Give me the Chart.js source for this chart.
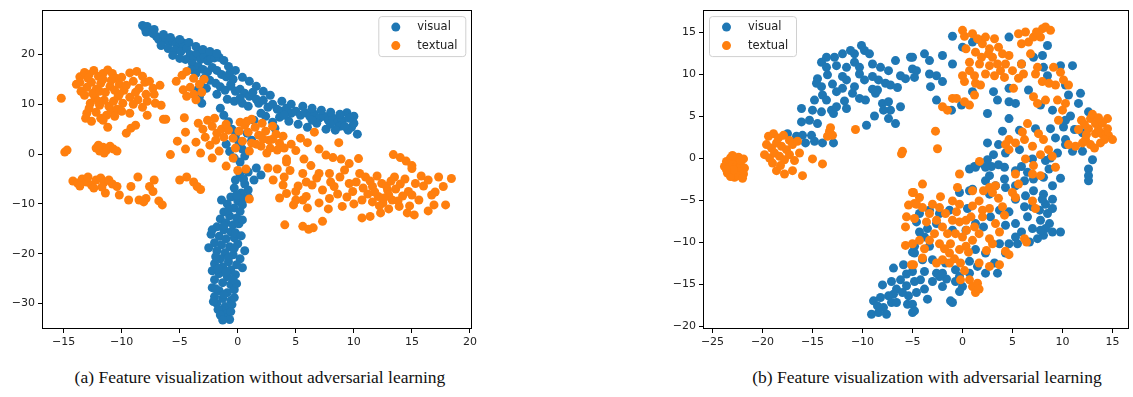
<!DOCTYPE html>
<html>
<head>
<meta charset="utf-8">
<script src="https://cdn.jsdelivr.net/npm/chart.js@4.4.1/dist/chart.umd.min.js"></script>
<style>
body { margin: 0; background: #fff; width: 1133px; height: 397px; position: relative; overflow: hidden; }
canvas { position: absolute; top: 0; }
#chartA { left: 0; }
#chartB { left: 650px; }
.caption { position: absolute; top: 367px; width: 600px; text-align: center; font-family: "Liberation Serif", "Times New Roman", serif; font-size: 17.5px; color: #111; white-space: nowrap; }
</style>
</head>
<body>
<canvas id="chartA" width="480" height="350"></canvas>
<canvas id="chartB" width="483" height="350"></canvas>
<div class="caption" style="left:-40px">(a) Feature visualization without adversarial learning</div>
<div class="caption" style="left:627px">(b) Feature visualization with adversarial learning</div>
<script>
const seriesLabels = ['visual', 'textual'];

// ===== (a) without adversarial learning =====
const leftXTicks = [-15, -10, -5, 0, 5, 10, 15, 20];
const leftYTicks = [-30, -20, -10, 0, 10, 20];

const leftVisual = [
    [-8.2,25.8],[-8.0,25.3],[-7.8,25.6],[-7.6,24.8],[-7.9,24.5],[-7.3,24.2],[-7.0,23.6],[-6.8,23.0],[-6.5,22.6],[-6.2,22.9],
    [-5.9,22.4],[-5.6,22.7],[-5.3,22.2],[-5.0,21.8],[-4.7,22.3],[-6.6,21.8],[-6.0,21.2],[-5.4,20.9],[-4.9,20.6],[-4.4,21.2],
    [-4.1,20.0],[-3.8,19.4],[-3.5,20.2],[-3.2,19.0],[-2.9,19.6],[-2.6,18.7],[-2.3,19.2],[-2.0,19.3],[-1.6,19.4],[-4.5,19.0],
    [-3.9,18.2],[-3.4,17.6],[-3.0,17.0],[-2.6,16.5],[-2.2,17.4],[-1.8,16.8],[-1.4,16.0],[-1.0,15.5],[-0.7,16.2],[-0.4,15.0],
    [-2.9,15.2],[-3.2,14.0],[-3.5,12.8],[-3.3,11.5],[-3.1,10.2],[-2.7,13.2],[-2.4,14.8],[-1.9,14.2],[-1.5,13.5],[-1.1,12.8],
    [-0.6,13.6],[-0.2,12.6],[0.2,13.0],[0.6,12.2],[1.0,11.6],[1.3,12.4],[1.6,11.0],[-1.8,12.0],[-0.9,11.0],[-0.3,10.6],
    [0.4,10.2],[0.9,9.6],[1.8,10.2],[2.2,10.8],[2.6,9.4],[3.0,10.0],[3.4,9.0],[3.8,8.6],[4.2,9.2],[4.6,8.2],
    [5.0,8.6],[5.4,7.8],[5.8,8.3],[6.2,7.6],[6.6,8.0],[7.0,7.2],[7.4,7.6],[7.8,6.8],[8.2,7.2],[8.6,6.4],
    [9.0,6.8],[9.4,8.3],[9.8,5.4],[10.3,4.0],[9.5,4.8],[8.8,5.6],[2.4,7.6],[3.0,6.4],[3.6,7.4],[4.4,6.6],
    [5.2,6.0],[6.0,5.4],[6.8,6.2],[7.6,5.0],[8.4,4.8],[3.2,5.2],[2.0,8.2],[1.4,6.8],[4.0,7.8],[6.4,6.8],
    [9.2,5.6],[8.0,6.0],[-1.5,9.2],[-1.2,7.8],[-0.8,6.5],[-0.5,5.0],[-0.2,3.8],[0.1,2.5],[0.4,1.0],[0.6,-0.4],
    [0.2,-1.6],[-0.3,-0.8],[-0.7,0.5],[-1.0,2.0],[0.8,4.2],[1.2,2.8],[1.6,-2.8],[2.0,-4.2],[1.4,-5.2],[0.9,-3.6],
    [-7.2,25.0],[-6.4,24.0],[-5.8,23.4],[-5.0,23.0],[-4.2,22.4],[-3.6,21.6],[-3.0,21.0],[-2.4,20.6],[-1.8,20.2],[-1.2,18.8],
    [-0.8,17.6],[-0.2,16.8],[0.4,15.4],[1.0,14.6],[1.6,13.6],[2.2,12.6],[2.8,11.8],[-5.6,19.8],[-5.0,19.2],[-4.0,17.0],
    [-3.6,16.2],[-0.6,14.0],[0.2,11.2],[3.8,10.6],[4.6,10.0],[5.6,9.6],[6.4,9.2],[7.2,8.8],[8.0,8.4],[8.8,8.0],
    [10.0,7.6],[10.0,6.2],[9.6,7.2],
    [0.2,-4.0],[-0.2,-5.2],[0.6,-6.0],[0.9,-7.2],[0.3,-7.8],[-0.3,-6.8],[-0.6,-8.6],[0.0,-9.4],[0.5,-9.0],[-0.9,-10.0],
    [-0.3,-10.8],[0.2,-11.5],[-1.2,-11.6],[-0.7,-12.4],[-0.1,-12.8],[-1.5,-13.0],[-1.0,-13.8],[-0.4,-14.2],[0.1,-14.0],[-1.8,-14.6],
    [-1.2,-15.2],[-0.6,-15.6],[-2.3,-16.1],[-1.6,-16.5],[-1.0,-17.0],[-0.3,-16.8],[-2.0,-17.8],[-1.4,-18.2],[-0.7,-18.6],[0.0,-18.0],
    [-1.8,-19.4],[-1.1,-19.8],[-0.4,-20.2],[-1.5,-21.0],[-0.8,-21.6],[0.2,-21.0],[-2.0,-22.0],[-1.3,-22.6],[-0.6,-23.2],[-2.2,-23.4],
    [-1.6,-24.0],[-0.9,-24.6],[-0.2,-24.2],[-2.0,-25.2],[-1.3,-25.8],[-0.6,-26.2],[-2.2,-26.8],[-1.6,-27.4],[-0.9,-27.8],[-0.3,-27.2],
    [-2.0,-28.6],[-1.3,-29.0],[-0.6,-29.4],[-1.8,-30.0],[-1.1,-30.6],[-0.5,-30.2],[-1.4,-31.4],[-0.9,-32.0],[-1.1,-32.8],[-0.6,-31.6],
    [-1.7,-31.2],[0.6,-19.4],[0.4,-22.8],[-0.1,-26.0],
    [-1.9,-20.6],[-0.3,-18.9],[-1.7,-23.0],[-1.0,-23.6],[-0.4,-25.2],[-1.9,-27.0],[-1.2,-28.2],[-0.3,-28.8],[-2.1,-29.6],[-1.5,-32.3],
    [-0.7,-33.2],[-1.3,-33.3],[-0.8,-20.8],[-1.2,-14.4],[-0.2,-15.8],[0.4,-13.2],[-0.8,-11.2],[0.4,-10.2],[-0.1,-8.2],[0.9,-8.6],
    [0.5,-5.0],[-1.4,-9.2],[-2.5,-18.8],[-2.2,-15.2],[0.3,-16.4],[-0.1,-22.2]
];

const leftTextual = [
    [-15.2,11.2],[-13.9,14.0],[-13.6,15.5],[-13.2,16.4],[-12.8,16.0],[-12.4,16.8],[-12.0,15.6],[-11.6,16.2],[-11.2,16.9],[-10.8,16.2],
    [-10.5,15.2],[-13.5,12.6],[-13.0,13.4],[-12.6,14.4],[-12.2,13.0],[-11.8,14.2],[-11.4,12.4],[-11.0,13.6],[-10.6,12.8],[-10.2,14.0],
    [-13.2,11.8],[-12.7,10.2],[-12.3,11.4],[-11.9,9.8],[-11.5,10.8],[-11.1,9.6],[-10.7,10.6],[-10.3,11.6],[-9.9,10.2],[-13.0,8.2],
    [-13.1,7.2],[-12.2,8.4],[-11.8,7.2],[-11.3,7.8],[-10.9,8.8],[-10.4,9.0],[-11.6,6.8],[-11.2,5.4],[-10.6,7.6],[-9.8,12.8],
    [-9.3,16.3],[-8.7,16.6],[-9.0,14.6],[-8.5,13.2],[-8.0,14.4],[-7.6,14.6],[-7.3,13.2],[-6.7,13.8],[-9.3,11.4],[-8.6,10.9],
    [-7.8,10.6],[-7.2,12.0],[-6.6,9.8],[-9.3,8.2],[-9.2,5.2],[-8.8,5.8],[-7.8,7.8],[-6.4,7.0],[-9.6,4.2],[-8.2,9.4],
    [-13.6,14.4],[-12.9,15.2],[-12.5,12.2],[-11.6,15.0],[-10.9,14.8],[-10.0,15.4],[-12.8,9.2],[-12.0,10.6],[-10.2,12.0],[-11.9,12.6],
    [-8.8,12.4],[-9.6,13.8],[-8.2,15.6],[-7.9,12.0],[-12.6,6.6],[-10.0,8.6],[-9.0,10.0],[-7.1,10.2],
    [-5.3,14.6],[-4.8,15.8],[-4.4,16.6],[-3.8,15.2],[-3.3,14.0],[-4.1,13.4],[-3.8,12.0],[-4.7,12.9],[-3.1,12.4],[-2.9,15.0],
    [-3.6,10.9],[-4.4,11.6],[-12.2,1.2],[-11.9,0.6],[-11.6,1.4],[-11.3,0.8],[-11.0,1.6],[-10.7,1.0],[-10.4,0.6],[-12.0,1.8],
    [-11.5,0.2],[-14.9,0.4],[-14.7,0.8],[-6.2,7.0],[-4.6,7.3],[-4.5,4.4],[-5.2,2.6],[-5.8,-0.1],[-4.5,1.0],[-3.4,6.2],
    [-3.0,5.0],[-2.6,6.8],[-2.2,5.6],[-1.8,4.2],[-2.8,3.4],[-3.6,2.4],[-2.4,1.8],[-1.9,2.8],[-1.4,5.0],[-1.2,3.4],
    [-0.8,4.8],[-1.6,0.6],[-0.4,3.2],[0.1,4.6],[0.2,6.4],[0.6,5.8],[0.9,4.4],[1.2,7.0],[1.5,5.4],[1.8,3.8],
    [2.1,6.2],[2.4,4.6],[2.7,2.8],[3.0,5.6],[3.3,4.0],[3.6,2.2],[3.9,3.6],[2.0,1.6],[1.2,2.2],[2.5,0.2],
    [3.4,0.8],[4.2,-1.0],[-0.4,-0.8],[-2.2,-0.8],[-3.2,0.2],[-1.0,-2.4],[0.0,-3.3],[0.7,-3.0],[1.0,-9.0],[6.6,4.4],
    [-2.0,7.2],[-1.0,6.0],[0.4,2.6],[1.0,0.6],[1.6,2.0],[2.8,1.2],[3.0,3.0],[-0.2,1.2],[0.8,6.6],[2.2,3.0],
    [8.7,2.3],[7.0,1.0],[6.0,2.3],[4.6,2.0],[5.0,0.7],[5.7,-1.0],[8.2,-0.7],[8.9,-1.0],[10.4,-0.9],[13.4,-0.1],
    [14.0,-0.7],[14.5,-1.4],[15.0,-2.3],[4.2,-1.6],[9.6,-1.9],[6.3,-2.3],[7.6,-0.2],[4.0,1.2],[5.4,3.2],
    [-14.2,-5.4],[-13.8,-5.8],[-13.4,-5.0],[-13.0,-5.6],[-12.6,-6.2],[-12.2,-5.2],[-11.8,-4.8],[-11.5,-5.6],[-11.1,-5.2],[-10.8,-6.0],
    [-10.4,-6.5],[-11.4,-7.8],[-10.2,-8.2],[-13.6,-6.4],[-12.4,-6.8],[-11.7,-6.6],[-12.9,-4.6],
    [-9.4,-9.2],[-8.5,-9.2],[-7.9,-8.9],[-7.6,-6.5],[-7.3,-7.5],[-7.2,-5.2],[-8.6,-4.6],[-9.2,-6.5],[-6.8,-9.4],[-6.5,-10.2],
    [-8.1,-9.6],[-5.0,-5.2],[-4.4,-4.6],[-3.8,-5.6],[-3.5,-6.5],[-3.2,-7.1],
    [3.05,-5.2],[3.9,-6.2],[4.2,-7.9],[4.8,-10.2],[5.0,-9.2],[5.6,-9.2],[5.9,-8.5],[5.0,-7.5],[4.5,-3.3],[5.6,-3.9],
    [5.9,-5.6],[7.0,-3.9],[7.3,-7.2],[7.9,-8.9],[8.3,-6.5],[8.8,-4.6],[9.0,-10.5],[9.6,-5.9],[9.9,-7.5],[10.5,-3.9],
    [10.7,-9.2],[10.7,-12.8],[11.4,-12.5],[12.3,-11.8],[11.0,-4.6],[11.6,-6.5],[12.1,-8.5],[12.4,-5.9],[12.9,-7.2],[13.3,-9.2],
    [13.5,-4.6],[13.9,-10.5],[14.6,-11.8],[14.7,-7.5],[15.3,-5.9],[15.6,-9.2],[16.7,-8.2],[16.9,-10.2],[17.3,-4.6],[17.7,-6.5],
    [18.4,-4.9],[17.9,-10.2],[4.05,-14.2],[5.6,-14.5],[6.1,-15.1],[6.5,-14.8],[7.3,-13.5],[15.0,-2.9],[7.9,-3.9],[12.8,-6.4],
    [13.0,-8.2],[13.6,-7.0],[12.5,-9.8],[14.2,-8.4],[11.8,-7.6],[13.2,-5.4],[14.0,-6.0],[12.2,-10.4],[8.6,-8.0],[9.2,-3.2],
    [6.4,-6.2],[6.8,-4.8],[10.2,-5.6],[10.0,-10.0],[11.2,-8.0],[16.0,-6.4],[15.8,-4.4],[6.0,-10.8],[7.8,-11.0],[3.4,-3.0],
    [2.6,-2.8],[16.4,-11.4],[15.2,-12.2],
    [12.0,-4.4],[12.6,-8.8],[13.8,-9.4],[14.4,-5.0],[11.4,-5.4],[10.8,-6.8],[11.6,-9.6],[13.0,-11.0],[15.0,-8.2],[14.8,-10.4],
    [8.0,-5.6],[9.4,-8.6],[7.0,-9.8],[5.2,-6.4],[4.0,-4.6],[16.4,-5.2],[17.0,-7.6],[3.6,-8.8]
];

// ===== (b) with adversarial learning =====
const rightXTicks = [-25, -20, -15, -10, -5, 0, 5, 10, 15];
const rightYTicks = [-20, -15, -10, -5, 0, 5, 10, 15];

const rightVisual = [
    [-10.1,13.4],[-9.8,12.8],[-10.8,12.4],[-9.3,12.4],[-12.0,12.4],[-12.8,12.0],[-13.6,12.0],[-14.1,11.4],[-13.6,10.8],[-12.6,11.0],
    [-11.6,10.8],[-10.8,11.4],[-10.3,10.8],[-9.0,11.2],[-8.2,10.8],[-7.4,10.4],[-6.7,11.6],[-5.2,12.0],[-5.0,10.6],[-6.2,9.8],
    [-5.7,9.45],[-7.7,8.9],[-7.2,8.7],[-8.4,9.3],[-9.0,9.7],[-9.8,9.3],[-10.3,10.0],[-10.8,8.5],[-11.6,9.3],[-12.0,9.7],
    [-13.5,9.9],[-14.5,9.45],[-14.6,8.9],[-14.1,8.5],[-12.6,7.9],[-12.0,8.3],[-11.0,7.7],[-10.3,7.1],[-9.7,6.9],[-8.7,7.7],
    [-8.5,8.1],[-8.0,6.5],[-7.4,6.7],[-7.2,5.7],[-6.2,6.1],[-7.9,5.7],[-7.4,4.7],[-6.7,4.1],[-9.6,3.9],[-14.0,7.5],
    [-14.8,6.9],[-16.1,5.9],[-15.0,5.7],[-14.1,5.5],[-13.1,5.7],[-13.6,6.9],[-12.9,5.3],[-12.6,6.1],[-11.6,5.9],[-16.1,4.3],
    [-15.3,4.5],[-14.5,4.1],[-17.5,2.9],[-16.6,2.6],[-16.0,2.7],[-15.1,2.7],[-14.8,2.0],[-14.0,1.8],[-12.9,1.8],[-15.7,1.8],
    [-11.2,12.8],[-13.0,8.8],[-9.0,8.2],[-6.5,8.4],[-11.8,6.8],[-8.8,5.0],[-3.8,12.4],[-2.0,12.2],
    [-1.0,14.5],[-5.0,12.0],[-3.3,11.6],[-4.6,10.4],[-4.8,9.6],[-3.3,10.0],[-2.6,9.8],[-2.0,9.1],[-3.2,8.5],[-1.0,11.2],
    [0.0,13.2],[1.0,13.8],[1.8,14.0],[4.65,14.4],[8.5,13.4],[5.9,11.2],[7.1,12.0],[8.0,12.2],[9.8,11.0],[11.0,11.0],
    [8.1,10.8],[1.0,7.9],[3.1,7.9],[4.65,8.3],[6.6,8.1],[8.5,9.8],[10.3,8.7],[10.6,7.5],[11.8,7.7],[-2.6,6.9],
    [-1.1,5.7],[-0.1,6.3],[2.5,5.3],[3.5,6.9],[4.65,6.7],[5.3,6.5],[7.8,6.3],[9.0,5.7],[10.3,4.5],[11.6,6.5],
    [12.6,5.5],[4.65,4.7],[5.7,3.3],[7.3,3.5],[8.8,3.5],[10.1,3.7],[9.3,2.4],[10.3,2.2],[12.0,3.0],[4.0,3.2],
    [2.5,1.8],[3.6,1.6],[4.3,0.6],[3.1,0.4],[5.7,1.0],[7.0,-0.1],[8.3,-0.3],[9.5,0.6],[10.3,1.6],[11.0,0.8],
    [12.0,0.8],[2.5,-0.2],[1.7,-0.6],[1.2,-1.0],[2.9,-1.0],[5.9,-1.0],[13.0,-0.2],[12.6,-1.3],
    [10.8,5.0],[11.2,3.4],[9.8,-2.4],[8.8,0.0],[3.6,-0.8],
    [-6.9,-13.1],[-5.9,-12.7],[-7.1,-14.7],[-8.0,-15.1],[-6.2,-14.5],[-6.6,-15.6],[-5.6,-15.2],[-6.9,-16.2],[-8.2,-16.6],[-8.9,-17.0],
    [-8.5,-17.6],[-7.9,-17.8],[-7.1,-17.2],[-9.1,-18.6],[-8.4,-18.4],[-7.6,-18.6],[-6.6,-17.2],[-5.5,-17.4],[-5.0,-18.4],[-5.4,-16.4],
    [-5.0,-11.2],[-5.0,-13.5],[-7.4,-16.4],[-6.0,-16.0],[-3.8,-15.6],[-1.6,-14.4],[-5.6,-13.8],
    [12.6,-2.1],[12.6,-2.7],[9.0,-3.3],[8.1,-4.3],[7.1,-3.9],[9.0,-4.9],[8.3,-5.5],[7.7,-6.2],[8.5,-6.6],[8.7,-7.8],
    [9.8,-8.8],[8.1,-9.2],[7.5,-9.6],[8.3,-8.4],[6.7,-10.0],[5.9,-8.8],[5.3,-9.4],[4.65,-10.2],[5.5,-10.2],[5.3,-7.8],
    [4.3,-8.0],[4.65,-6.4],[6.2,-5.8],[6.3,-4.5],[5.3,-4.9],[4.3,-3.5],[3.3,-3.3],[2.3,-2.7],[0.7,-3.9],[2.7,-2.1],
    [1.3,-1.1],[3.7,-10.2],[4.3,-11.3],[3.2,-12.5],[3.5,-13.7],[2.3,-13.7],[1.5,-12.9],[0.7,-13.7],[-0.3,-14.1],[-0.7,-14.7],
    [0.0,-15.3],[-0.3,-15.9],[-1.2,-17.0],[-1.0,-17.2],[-2.0,-15.3],[-2.3,-14.1],[-3.0,-14.7],[-2.6,-13.7],[-3.8,-13.5],[-4.2,-14.5],
    [-4.8,-14.7],[-4.6,-16.0],[-3.5,-16.8],[-4.8,-18.2],[-5.0,-17.4],[-4.0,-12.1],[-4.8,-11.3],[-4.8,-10.5],[-3.0,-12.1],[-1.7,-12.5],
    [-2.0,-13.7],[-0.7,-13.3],[1.3,-10.9],[2.3,-11.3],[0.7,-12.3],[-3.3,-10.5],[-3.8,-9.4],[-4.3,-8.8],[-3.5,-8.4],[-4.6,-7.6],
    [-4.3,-6.6],[-3.3,-6.2],[-2.3,-6.6],[-2.6,-7.8],[-1.3,-6.2],[-1.0,-8.6],[0.35,-8.6],[1.3,-7.8],[2.1,-8.2],[2.8,-7.0],
    [3.7,-6.2],[0.5,-6.0],[-0.3,-4.1],[1.0,-3.7],[2.7,-4.3],[4.2,-2.5],[5.3,-3.3],[6.2,-2.7],[7.1,-2.5],[8.1,-2.3],
    [8.65,-1.3],[6.5,-1.7],[0.7,-1.3],[2.3,-1.1],[4.2,-1.1],[5.3,-1.5],[7.98,-4.9],[7.8,-8.6],[9.0,-8.8],[7.8,-7.4],
    [9.0,-6.0],[7.0,-8.4],[6.5,-7.0],[7.0,-5.8]
];

const rightTextual = [
    [-23.6,-0.4],[-23.2,0.0],[-22.8,-0.2],[-22.4,0.1],[-21.9,-0.1],[-23.8,-1.0],[-23.4,-1.2],[-23.0,-0.8],[-22.6,-1.0],[-22.2,-0.8],
    [-21.8,-1.2],[-23.5,-1.8],[-23.1,-1.6],[-22.7,-1.8],[-22.3,-1.6],[-21.9,-1.9],[-22.8,-2.3],[-22.5,-2.1],[-23.2,-2.2],[-22.0,-2.4],
    [-22.9,-1.4],[-23.0,0.3],[-22.2,-0.3],[-23.6,-1.4],
    [-19.4,2.6],[-18.9,2.9],[-18.4,2.4],[-17.9,2.7],[-17.3,2.1],[-19.6,1.6],[-19.1,1.2],[-18.6,1.8],[-18.1,1.4],[-17.6,1.0],
    [-17.0,1.6],[-16.5,2.0],[-19.8,0.4],[-19.3,0.0],[-18.8,0.6],[-18.3,0.2],[-17.8,-0.2],[-17.3,0.4],[-16.8,-0.3],[-16.3,0.6],
    [-18.6,-1.5],[-17.8,-1.9],[-17.0,-1.5],[-16.0,-2.1],[-18.2,-0.9],[-19.0,-0.6],[-15.0,-0.1],[-14.0,-0.7],
    [-13.3,3.2],[-13.5,2.6],[-13.0,2.7],[-13.2,3.6],[-10.7,3.4],[-6.0,0.8],[-6.1,0.5],
    [-4.9,-4.1],[-5.4,-5.6],[-5.6,-7.0],[-5.7,-8.2],[-4.8,-5.4],[-4.8,-7.2],[-5.7,-10.4],[-4.9,-12.7],
    [0.0,15.2],[0.2,14.5],[1.0,14.8],[2.3,14.4],[3.2,14.2],[1.99,13.6],[0.35,13.0],[1.3,12.6],[2.7,13.0],[1.9,12.0],
    [3.0,12.0],[4.0,12.4],[4.65,12.2],[0.7,11.4],[1.7,11.2],[2.7,11.0],[3.5,11.2],[2.3,10.0],[3.2,9.8],[0.7,10.4],
    [0.0,9.8],[0.2,9.1],[1.3,8.9],[1.8,8.7],[4.3,11.2],[4.2,9.6],[5.6,14.8],[6.3,15.0],[6.6,13.8],[7.1,14.4],
    [8.0,15.4],[8.3,15.6],[8.8,15.2],[7.8,14.4],[5.9,13.6],[5.9,11.2],[6.1,10.0],[5.0,10.4],[5.6,9.5],[7.3,10.0],
    [7.5,10.8],[9.1,10.8],[9.8,10.2],[10.1,9.3],[10.6,8.7],[7.98,9.1],[8.65,8.9],[9.3,8.7],[5.1,8.3],[7.5,6.5],
    [1.5,14.2],[2.6,12.4],[3.6,13.2],[1.2,9.8],[7.4,15.0],[6.8,12.4],[3.8,10.4],
    [7.1,7.3],[8.3,6.9],[9.5,6.9],[10.0,5.7],[10.3,6.5],[9.6,4.5],[11.9,4.5],[12.8,4.7],[13.3,4.1],[12.6,3.5],
    [13.3,2.9],[13.9,2.9],[14.5,4.7],[14.6,2.7],[15.0,2.2],[13.8,1.8],[12.3,2.2],[12.8,1.6],[11.3,1.4],[10.6,1.6],
    [12.2,4.0],[13.0,5.2],[13.6,3.4],[14.2,2.2],[12.4,2.8],[13.2,1.2],[14.0,4.2],[11.6,3.4],[13.6,4.8],[12.0,1.8],
    [14.5,3.5],[-1.0,7.1],[-0.6,7.1],[0.2,6.7],[0.7,6.3],[-2.0,6.1],[-1.5,5.7],[1.2,7.5],[-2.7,3.2],[-2.5,1.1],
    [4.65,2.2],[5.3,1.8],[4.3,1.6],[4.65,1.0],[6.5,4.1],[5.99,3.1],[7.6,2.9],[8.1,2.2],[7.0,1.4],[6.2,2.2],
    [7.8,0.4],[8.6,1.0],[8.98,0.2],[6.3,-0.1],[7.1,-0.9],[1.7,-0.4],
    [-0.3,-1.9],[-4.0,-3.1],[-5.0,-4.1],[-0.5,-3.5],[1.0,-3.9],[2.1,-3.9],[2.7,-3.5],[3.3,-3.3],[3.0,-4.1],[5.3,-1.9],
    [5.6,-3.1],[4.99,-4.1],[5.3,-4.7],[7.0,-5.1],[7.3,-6.0],[7.0,-1.9],[7.8,-2.1],[9.3,-1.1],[-1.0,-5.1],[-0.3,-5.5],
    [1.0,-5.7],[1.66,-5.1],[2.0,-6.2],[2.7,-6.0],[4.0,-5.8],[4.2,-6.8],[3.3,-7.8],[3.7,-8.8],[2.7,-9.6],[1.66,-9.0],
    [1.0,-9.8],[0.0,-9.4],[0.35,-10.5],[-0.3,-10.9],[-1.2,-10.2],[-1.3,-11.3],[-2.0,-12.1],[-2.6,-12.5],[-1.3,-12.5],[-0.2,-12.5],
    [1.66,-12.5],[0.7,-14.5],[1.0,-15.3],[1.5,-14.9],[1.3,-16.0],[1.66,-15.6],[-0.2,-14.5],[-2.0,-8.2],[-2.6,-7.4],[-3.3,-6.6],
    [-4.0,-5.9],[-4.6,-5.5],[-4.3,-4.7],[-3.0,-5.5],[-2.3,-5.9],[-1.7,-6.6],[-1.0,-7.4],[-0.3,-7.6],[0.35,-7.4],[-0.7,-9.0],
    [-1.5,-9.0],[-2.3,-10.2],[-3.3,-9.8],[-4.3,-9.8],[-5.0,-10.2],[-4.0,-11.9],[-5.1,-12.7],[3.0,-10.2],[4.3,-11.1],[4.65,-11.5],
    [3.7,-12.7],[2.7,-12.9],[6.2,-9.6],[6.4,-10.0],[2.0,-7.0],[0.85,-7.0],
    [-3.6,-7.6],[-2.8,-9.0],[-1.8,-10.8],[-0.8,-12.0],[0.6,-11.2],[1.2,-8.2],[-0.6,-6.4],[2.4,-11.0],[-3.8,-10.8],[3.6,-4.8],
    [-2.2,-4.6],[0.2,-13.4],[0.4,-8.6]
];

const colors = ['#1f77b4', '#ff7f0e'];

const toPoints = arr => arr.map(p => ({x: p[0], y: p[1]}));
const minus = v => String(v).replace('-', '\u2212');

// frame on all four sides + matplotlib style legend box
const framePlugin = {
    id: 'frame',
    afterDraw(chart, args, opts) {
        const ctx = chart.ctx;
        const a = chart.chartArea;
        ctx.save();
        ctx.strokeStyle = '#000';
        ctx.lineWidth = 1;
        ctx.strokeRect(Math.round(a.left) + 0.5, Math.round(a.top) + 0.5,
            Math.round(a.right - a.left) - 1, Math.round(a.bottom - a.top) - 1);

        const w = 87, h = 40;
        const x0 = opts.side === 'right' ? a.right - 7 - w : a.left + 6;
        const y0 = a.top + 6.5;
        ctx.beginPath();
        ctx.roundRect(x0 + 0.5, y0 + 0.5, w, h, 3);
        ctx.fillStyle = 'rgba(255,255,255,0.8)';
        ctx.fill();
        ctx.strokeStyle = '#d0d0d0';
        ctx.stroke();

        ctx.font = '11.5px "DejaVu Sans"';
        ctx.textBaseline = 'middle';
        chart.data.datasets.forEach((ds, i) => {
            const cy = y0 + 11 + i * 18.5;
            ctx.beginPath();
            ctx.arc(x0 + 17.5, cy, 4.5, 0, Math.PI * 2);
            ctx.fillStyle = ds.backgroundColor;
            ctx.fill();
            ctx.fillStyle = '#222';
            ctx.fillText(ds.label, x0 + 39, cy);
        });
        ctx.restore();
    }
};

function makeChart(id, visual, textual, xr, yr, xt, yt, yWidth, padRight, side) {
    const tickFont = {family: 'DejaVu Sans', size: 11};
    return new Chart(document.getElementById(id), {
        type: 'scatter',
        data: {
            datasets: [
                {label: seriesLabels[0], data: toPoints(visual), backgroundColor: colors[0], order: 2},
                {label: seriesLabels[1], data: toPoints(textual), backgroundColor: colors[1], order: 1}
            ]
        },
        options: {
            responsive: false,
            animation: false,
            devicePixelRatio: 1,
            events: [],
            layout: {padding: {top: 6, right: padRight, left: 0, bottom: 0}},
            elements: {point: {radius: 4.5, borderWidth: 0}},
            plugins: {legend: {display: false}, tooltip: {enabled: false}, frame: {side: side}},
            scales: {
                x: {
                    type: 'linear', min: xr[0], max: xr[1],
                    afterBuildTicks: s => { s.ticks = xt.map(v => ({value: v})); },
                    afterFit: s => { s.height = 21; },
                    grid: {drawOnChartArea: false, tickLength: 4, color: '#000'},
                    border: {display: false},
                    ticks: {font: tickFont, color: '#222', padding: 3, maxRotation: 0, autoSkip: false, callback: minus}
                },
                y: {
                    type: 'linear', min: yr[0], max: yr[1],
                    afterBuildTicks: s => { s.ticks = yt.map(v => ({value: v})); },
                    afterFit: s => { s.width = yWidth; },
                    grid: {drawOnChartArea: false, tickLength: 4, color: '#000'},
                    border: {display: false},
                    ticks: {font: tickFont, color: '#222', padding: 3, autoSkip: false, callback: minus}
                }
            }
        },
        plugins: [framePlugin]
    });
}

makeChart('chartA', leftVisual, leftTextual, [-16.86, 20.2], [-35.1, 29], leftXTicks, leftYTicks, 42, 4.3, 'right');
makeChart('chartB', rightVisual, rightTextual, [-25.95, 16.6], [-20.35, 17.67], rightXTicks, rightYTicks, 53, 2, 'left');
</script>
</body>
</html>
